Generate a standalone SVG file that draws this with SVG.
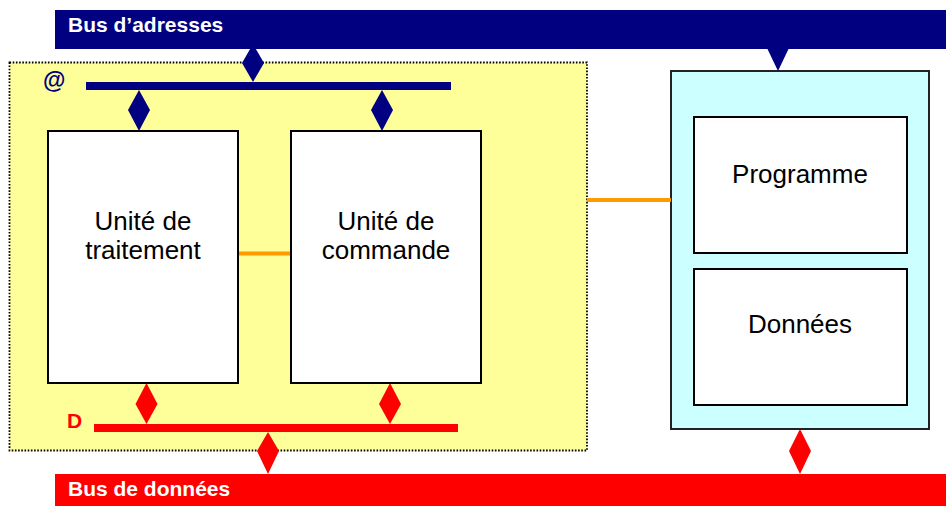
<svg xmlns="http://www.w3.org/2000/svg" width="946" height="506" viewBox="0 0 946 506">
<style>
.box{fill:#fff;stroke:#000;stroke-width:2}
.t{font-family:"Liberation Sans",Arial,sans-serif;font-size:26px;fill:#000;text-anchor:middle}
.bt{font-family:"Liberation Sans",Arial,sans-serif;font-weight:bold;fill:#fff}
.navy{fill:#000080}
.red{fill:#ff0000}
.or{stroke:#ff9900;stroke-width:4;fill:none}
</style>
<rect width="946" height="506" fill="#fff"/>
<g id="cpu">
<rect x="9.5" y="62.5" width="577.5" height="388" fill="#ffff99" stroke="#000" stroke-width="1.8" stroke-dasharray="1.6 1.6"/>
</g>
<g id="memoire">
<rect x="671" y="71" width="258" height="358" fill="#ccffff" stroke="#222" stroke-width="2"/>
</g>
<g id="connectors">
<line class="or" x1="238" y1="253.5" x2="291" y2="253.5"/>
<line class="or" x1="587" y1="200" x2="671" y2="200"/>
<polygon class="navy" points="253,44 264,63 253,82 242,63"/>
<polygon class="navy" points="139,90 150,110 139,131 128,110"/>
<polygon class="navy" points="382,90 393,110 382,131 371,110"/>
<polygon class="navy" points="767,48 789,48 778,71"/>
<polygon class="red" points="146.5,383 157.5,404 146.5,424 135.5,404"/>
<polygon class="red" points="390,383 401,404 390,424 379,404"/>
<polygon class="red" points="268,432 279,451 268,474 257,451"/>
<polygon class="red" points="800,429 811,451 800,474 789,451"/>
</g>
<g id="bus-adresses">
<rect x="55" y="10" width="891" height="39" fill="#000080"/>
<text class="bt" x="68" y="32" font-size="21">Bus d’adresses</text>
</g>
<g id="bus-donnees">
<rect x="55" y="474" width="891" height="32" fill="#ff0000"/>
<text class="bt" x="68" y="496" font-size="21">Bus de données</text>
</g>
<g id="bus-interne-adresses">
<rect x="86" y="82" width="365" height="8" fill="#000080"/>
<text x="43" y="88" font-family="Liberation Sans,Arial,sans-serif" font-weight="bold" font-size="23" fill="#000080">@</text>
</g>
<g id="bus-interne-donnees">
<rect x="94" y="424" width="364" height="8" fill="#ff0000"/>
<text x="67" y="428" font-family="Liberation Sans,Arial,sans-serif" font-weight="bold" font-size="21" fill="#ff0000">D</text>
</g>
<g id="unite-traitement">
<rect class="box" x="48" y="131" width="190" height="252"/>
<text class="t" x="143" y="230">Unité de</text>
<text class="t" x="143" y="259">traitement</text>
</g>
<g id="unite-commande">
<rect class="box" x="291" y="131" width="190" height="252"/>
<text class="t" x="386" y="230">Unité de</text>
<text class="t" x="386" y="259">commande</text>
</g>
<g id="programme">
<rect class="box" x="694" y="117" width="213" height="136"/>
<text class="t" x="800" y="183">Programme</text>
</g>
<g id="donnees">
<rect class="box" x="694" y="269" width="213" height="136"/>
<text class="t" x="800" y="333">Données</text>
</g>
</svg>
